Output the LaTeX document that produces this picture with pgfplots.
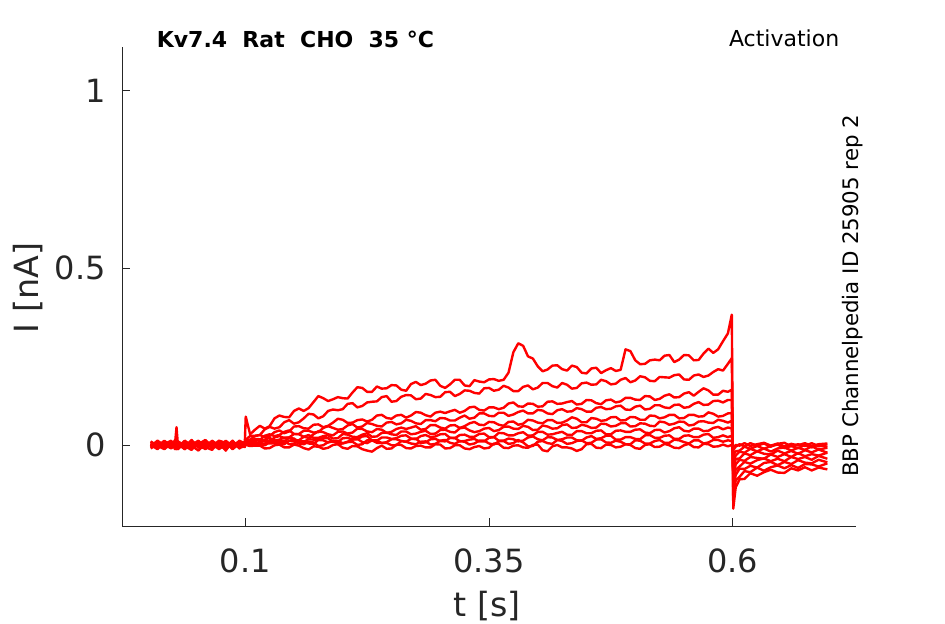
\documentclass[border=0pt]{standalone}
\usepackage{pgfplots}
\pgfplotsset{compat=1.18}
\usepackage{pgfplotstable}
\usepackage{fontspec}
\setmainfont{DejaVu Sans}
\definecolor{axisgray}{HTML}{262626}
\tikzset{trace/.style={color=red, solid, line width=1.8pt, line join=round, mark=none}}

\pgfplotstableread{
t a b c d e f g h i j
0.003 0.004 -0.006 0.008 -0.002 0.010 -0.010 0.000 0.006 -0.004 0.002
0.010 -0.008 0.010 -0.002 0.006 -0.004 0.002 -0.012 0.004 0.012 -0.006
0.017 0.010 -0.004 -0.012 0.004 0.002 0.008 0.006 -0.010 -0.002 0.012
0.024 -0.002 0.008 0.004 -0.010 0.012 -0.006 0.002 0.008 -0.008 -0.004
0.028 0.006 -0.012 0.010 0.000 -0.008 0.014 -0.004 -0.002 0.006 0.004
0.0295 -0.004 0.002 -0.006 0.008 -0.002 0.004 0.012 -0.012 0.000 0.050
0.031 0.002 0.006 0.000 -0.006 0.008 -0.008 0.004 0.010 -0.012 -0.002
0.038 -0.012 -0.004 0.006 0.012 -0.012 0.002 -0.006 -0.002 0.008 -0.008
0.045 0.008 -0.014 -0.010 -0.002 0.006 -0.004 0.014 0.000 -0.006 0.010
0.052 -0.006 0.010 0.002 -0.016 0.004 0.008 -0.008 0.012 -0.002 -0.004
0.059 0.012 -0.002 0.014 0.004 -0.006 -0.012 0.000 -0.008 0.010 -0.010
0.066 -0.010 0.006 -0.004 0.008 -0.014 0.002 -0.004 0.006 -0.006 0.012
0.073 0.004 -0.008 -0.008 -0.004 0.010 0.006 0.012 -0.012 0.000 -0.002
0.080 -0.002 0.012 0.004 -0.010 0.000 -0.016 0.006 0.002 0.008 -0.006
0.087 0.008 -0.004 -0.002 0.006 -0.006 0.010 -0.012 0.004 -0.010 0.012
0.094 -0.006 0.000 0.010 0.002 0.012 -0.004 0.004 -0.008 0.006 -0.010
0.0995 0.002 0.006 -0.004 -0.006 0.004 -0.002 0.008 -0.004 0.000 0.006
0.1005 0.080 0.015 0.012 0.010 0.008 0.006 0.005 0.004 0.003 0.000
0.105 0.030 0.025 0.015 0.014 0.010 0.008 0.006 0.004 0.002 -0.003
0.11 0.043 0.026 0.025 0.014 0.017 0.006 0.010 -0.001 0.009 -0.002
0.115 0.054 0.028 0.028 0.014 0.016 0.004 0.003 0.010 -0.001 -0.002
0.12 0.046 0.044 0.022 0.026 0.011 0.015 0.003 0.010 -0.001 -0.010
0.125 0.053 0.051 0.025 0.030 0.010 0.020 0.013 0.004 0.007 -0.009
0.13 0.075 0.046 0.036 0.025 0.021 0.012 0.013 0.005 0.007 -0.001
0.135 0.083 0.050 0.041 0.028 0.025 0.015 0.008 0.011 0.002 0.001
0.14 0.079 0.064 0.033 0.037 0.019 0.021 0.009 0.012 0.002 -0.007
0.145 0.078 0.070 0.038 0.041 0.021 0.021 0.020 0.002 0.012 -0.007
0.15 0.096 0.060 0.052 0.031 0.031 0.012 0.018 0.004 0.011 0.001
0.155 0.103 0.064 0.053 0.031 0.030 0.013 0.009 0.011 0.004 -0.002
0.16 0.096 0.075 0.047 0.040 0.023 0.023 0.009 0.010 0.002 -0.009
0.165 0.104 0.088 0.046 0.040 0.020 0.028 0.016 0.004 0.009 -0.013
0.17 0.121 0.086 0.057 0.035 0.030 0.020 0.015 0.003 0.007 -0.004
0.175 0.138 0.075 0.058 0.036 0.039 0.020 0.015 0.014 -0.003 -0.005
0.18 0.132 0.081 0.050 0.048 0.036 0.025 0.019 0.013 -0.001 -0.011
0.185 0.124 0.096 0.054 0.053 0.030 0.027 0.019 0.007 0.008 -0.008
0.19 0.129 0.100 0.063 0.048 0.027 0.018 0.009 0.010 0.011 0.000
0.195 0.135 0.098 0.074 0.043 0.037 0.019 0.008 0.011 0.003 0.002
0.20 0.132 0.101 0.071 0.045 0.038 0.031 0.019 0.005 0.004 -0.008
0.205 0.131 0.116 0.062 0.055 0.032 0.029 0.020 0.009 0.008 -0.011
0.21 0.148 0.118 0.063 0.059 0.035 0.023 0.015 0.016 0.009 -0.003
0.215 0.163 0.106 0.070 0.049 0.046 0.022 0.016 0.017 0.000 -0.004
0.22 0.161 0.110 0.072 0.052 0.045 0.029 0.024 0.008 0.002 -0.012
0.225 0.150 0.120 0.066 0.062 0.038 0.033 0.025 0.005 0.013 -0.016
0.23 0.150 0.122 0.071 0.059 0.036 0.023 0.013 0.013 0.013 -0.019
0.235 0.165 0.123 0.083 0.054 0.045 0.024 0.012 0.013 0.006 -0.009
0.24 0.159 0.135 0.085 0.052 0.043 0.034 0.021 0.005 0.006 -0.002
0.245 0.160 0.138 0.076 0.063 0.034 0.035 0.021 0.008 0.006 -0.011
0.25 0.169 0.122 0.074 0.065 0.037 0.030 0.017 0.016 -0.001 -0.010
0.255 0.168 0.124 0.083 0.058 0.045 0.028 0.019 0.016 -0.001 0.001
0.26 0.156 0.136 0.085 0.061 0.049 0.038 0.026 0.011 0.011 0.000
0.265 0.153 0.141 0.077 0.071 0.045 0.038 0.027 0.009 0.009 -0.009
0.27 0.172 0.140 0.083 0.068 0.049 0.030 0.018 0.017 0.004 -0.010
0.275 0.178 0.129 0.093 0.061 0.053 0.032 0.016 0.018 0.002 -0.003
0.28 0.169 0.131 0.091 0.059 0.043 0.037 0.025 0.006 0.009 -0.002
0.285 0.173 0.144 0.084 0.070 0.045 0.040 0.028 0.007 0.010 -0.007
0.29 0.182 0.141 0.080 0.070 0.056 0.031 0.022 0.016 0.001 -0.007
0.295 0.184 0.135 0.091 0.067 0.056 0.032 0.024 0.017 0.003 0.002
0.30 0.167 0.136 0.094 0.076 0.049 0.042 0.030 0.011 0.012 0.001
0.305 0.161 0.149 0.090 0.075 0.046 0.043 0.031 0.010 0.014 -0.010
0.31 0.171 0.150 0.095 0.069 0.055 0.037 0.020 0.020 0.006 -0.009
0.315 0.184 0.138 0.099 0.069 0.056 0.035 0.019 0.020 0.003 -0.001
0.32 0.184 0.144 0.091 0.077 0.048 0.047 0.028 0.010 0.011 -0.001
0.325 0.168 0.154 0.096 0.083 0.053 0.049 0.029 0.011 0.009 -0.010
0.33 0.166 0.153 0.106 0.074 0.061 0.041 0.023 0.015 0.001 -0.012
0.335 0.183 0.147 0.108 0.077 0.065 0.036 0.023 0.017 0.004 -0.006
0.34 0.179 0.145 0.099 0.089 0.057 0.039 0.031 0.010 0.012 -0.003
0.345 0.177 0.160 0.097 0.089 0.056 0.046 0.032 0.010 0.012 -0.010
0.35 0.185 0.161 0.106 0.082 0.065 0.048 0.022 0.020 0.004 -0.008
0.355 0.186 0.153 0.106 0.081 0.064 0.039 0.022 0.022 0.001 0.004
0.36 0.181 0.156 0.101 0.091 0.057 0.042 0.034 0.012 0.010 0.003
0.365 0.184 0.167 0.105 0.091 0.054 0.051 0.033 0.012 0.011 -0.008
0.37 0.204 0.162 0.117 0.082 0.065 0.052 0.027 0.018 0.003 -0.009
0.375 0.262 0.152 0.120 0.086 0.066 0.046 0.027 0.016 0.005 -0.002
0.38 0.287 0.152 0.109 0.093 0.057 0.045 0.033 0.010 0.014 -0.001
0.385 0.280 0.164 0.108 0.097 0.060 0.054 0.036 0.012 0.007 -0.007
0.39 0.250 0.168 0.117 0.089 0.071 0.051 0.026 0.021 -0.004 -0.008
0.395 0.244 0.157 0.116 0.089 0.069 0.042 0.027 0.024 -0.003 0.000
0.40 0.222 0.162 0.108 0.099 0.063 0.043 0.037 0.016 0.009 0.001
0.405 0.208 0.175 0.109 0.097 0.061 0.055 0.037 0.013 0.011 -0.015
0.41 0.213 0.175 0.122 0.089 0.070 0.052 0.029 0.022 0.005 -0.018
0.415 0.224 0.166 0.123 0.087 0.070 0.046 0.030 0.021 0.003 -0.004
0.42 0.225 0.162 0.116 0.098 0.062 0.047 0.034 0.014 0.014 0.000
0.425 0.214 0.175 0.117 0.101 0.063 0.056 0.037 0.016 0.011 -0.007
0.43 0.210 0.170 0.121 0.094 0.069 0.058 0.029 0.021 0.003 -0.007
0.435 0.224 0.159 0.124 0.095 0.078 0.048 0.028 0.021 0.005 -0.010
0.44 0.220 0.161 0.114 0.104 0.074 0.049 0.039 0.013 0.011 -0.017
0.445 0.204 0.174 0.116 0.101 0.064 0.057 0.039 0.012 0.013 -0.012
0.45 0.202 0.176 0.127 0.094 0.064 0.054 0.033 0.021 0.005 0.002
0.455 0.216 0.170 0.126 0.094 0.076 0.048 0.033 0.025 0.006 0.003
0.46 0.218 0.171 0.118 0.105 0.074 0.049 0.040 0.017 0.015 -0.008
0.465 0.203 0.184 0.115 0.107 0.068 0.060 0.041 0.019 0.016 -0.009
0.47 0.211 0.180 0.126 0.101 0.070 0.059 0.030 0.026 0.007 0.001
0.475 0.217 0.171 0.128 0.102 0.078 0.052 0.030 0.026 0.006 0.000
0.48 0.209 0.173 0.120 0.109 0.079 0.054 0.040 0.015 0.012 -0.007
0.485 0.212 0.184 0.123 0.111 0.069 0.061 0.041 0.015 0.009 -0.005
0.49 0.270 0.189 0.133 0.100 0.070 0.062 0.037 0.022 0.002 0.002
0.495 0.265 0.177 0.133 0.099 0.079 0.052 0.037 0.022 0.002 0.000
0.50 0.239 0.182 0.128 0.108 0.078 0.053 0.043 0.017 0.013 -0.009
0.505 0.228 0.194 0.127 0.111 0.071 0.061 0.044 0.016 0.012 -0.011
0.51 0.229 0.191 0.138 0.100 0.071 0.060 0.035 0.027 0.004 0.000
0.515 0.239 0.181 0.137 0.102 0.083 0.054 0.033 0.028 0.004 0.002
0.52 0.241 0.180 0.127 0.112 0.082 0.053 0.042 0.020 0.011 -0.006
0.525 0.239 0.192 0.130 0.112 0.075 0.066 0.043 0.020 0.014 -0.005
0.53 0.252 0.191 0.139 0.106 0.078 0.064 0.035 0.026 0.006 0.003
0.535 0.254 0.190 0.143 0.104 0.085 0.057 0.039 0.027 0.006 -0.001
0.54 0.234 0.197 0.134 0.113 0.085 0.060 0.047 0.017 0.015 -0.008
0.545 0.241 0.199 0.135 0.114 0.075 0.066 0.050 0.017 0.013 -0.009
0.55 0.254 0.185 0.145 0.105 0.076 0.065 0.040 0.026 0.008 -0.001
0.555 0.253 0.184 0.149 0.107 0.085 0.055 0.038 0.027 0.004 0.003
0.56 0.239 0.196 0.139 0.116 0.085 0.057 0.046 0.022 0.013 -0.006
0.565 0.240 0.199 0.150 0.121 0.080 0.066 0.046 0.022 0.013 -0.007
0.57 0.258 0.192 0.160 0.113 0.081 0.067 0.039 0.029 0.004 0.003
0.575 0.272 0.196 0.154 0.114 0.092 0.063 0.040 0.031 0.007 0.002
0.58 0.260 0.206 0.142 0.124 0.088 0.062 0.048 0.020 0.014 -0.005
0.585 0.270 0.214 0.142 0.125 0.080 0.071 0.051 0.022 0.014 -0.004
0.59 0.293 0.210 0.153 0.120 0.082 0.068 0.044 0.027 0.009 0.001
0.595 0.315 0.229 0.150 0.127 0.089 0.063 0.049 0.022 0.013 -0.004
0.599 0.368 0.245 0.156 0.127 0.090 0.068 0.047 0.026 0.011 0.000
0.6005 -0.180 -0.160 -0.130 -0.110 -0.090 -0.070 -0.050 -0.030 -0.015 -0.010
0.603 -0.120 -0.100 -0.085 -0.070 -0.055 -0.040 -0.030 -0.018 -0.005 0.000
0.607 -0.097 -0.090 -0.067 -0.061 -0.042 -0.038 -0.019 -0.016 0.002 -0.002
0.612 -0.096 -0.074 -0.068 -0.048 -0.045 -0.024 -0.022 -0.005 -0.004 0.005
0.618 -0.080 -0.077 -0.059 -0.053 -0.034 -0.029 -0.011 -0.011 0.005 -0.003
0.625 -0.087 -0.064 -0.064 -0.043 -0.037 -0.018 -0.018 -0.003 -0.002 0.002
0.632 -0.077 -0.073 -0.051 -0.038 -0.039 -0.025 -0.010 -0.011 0.004 0.006
0.639 -0.070 -0.063 -0.048 -0.046 -0.027 -0.027 -0.019 -0.003 -0.005 -0.002
0.646 -0.078 -0.058 -0.057 -0.039 -0.034 -0.016 -0.010 0.001 0.003 0.004
0.653 -0.079 -0.066 -0.048 -0.046 -0.026 -0.024 -0.007 -0.009 0.006 -0.004
0.660 -0.066 -0.057 -0.054 -0.034 -0.034 -0.017 -0.016 -0.003 -0.004 0.003
0.667 -0.072 -0.065 -0.043 -0.040 -0.023 -0.025 -0.008 -0.009 0.002 -0.001
0.674 -0.063 -0.054 -0.050 -0.034 -0.032 -0.015 -0.014 0.000 -0.003 0.005
0.681 -0.072 -0.055 -0.052 -0.042 -0.026 -0.021 -0.004 -0.007 0.005 -0.003
0.688 -0.064 -0.061 -0.042 -0.031 -0.030 -0.013 -0.013 0.001 -0.004 0.002
0.697 -0.069 -0.052 -0.049 -0.039 -0.022 -0.022 -0.008 -0.006 0.002 0.004
}\traces

\begin{document}
\begin{tikzpicture}
\begin{axis}[
  at={(0pt,0pt)}, anchor=south west,
  scale only axis, width=550.5pt, height=359.25pt,
  xmin=-0.0264, xmax=0.7264, ymin=-0.229, ymax=1.124,
  axis x line*=bottom, axis y line*=left,
  axis line style={color=axisgray, line width=0.6pt},
  xtick={0.1,0.35,0.6}, xticklabels={0.1,0.35,0.6},
  ytick={0,0.5,1}, yticklabels={0,0.5,1},
  tick align=inside, major tick length=6pt,
  tick style={color=axisgray, line width=0.6pt},
  ticklabel style={font=\fontsize{24}{28}\selectfont, text=axisgray, inner sep=0pt},
  xticklabel style={yshift=-16.5pt},
  yticklabel style={xshift=-12pt},
  /pgf/number format/assume math mode=true,
  clip=false,
]
\addplot[trace] table[x=t, y=j] {\traces};
\addplot[trace] table[x=t, y=i] {\traces};
\addplot[trace] table[x=t, y=h] {\traces};
\addplot[trace] table[x=t, y=g] {\traces};
\addplot[trace] table[x=t, y=f] {\traces};
\addplot[trace] table[x=t, y=e] {\traces};
\addplot[trace] table[x=t, y=d] {\traces};
\addplot[trace] table[x=t, y=c] {\traces};
\addplot[trace] table[x=t, y=b] {\traces};
\addplot[trace] table[x=t, y=a] {\traces};
\end{axis}
% texts (positions in pt, 1px = 0.75pt, origin at the axis' lower left corner)
\node[anchor=base west, inner sep=0pt, font=\fontsize{16.5}{19}\selectfont\bfseries] at (25.9pt,358.7pt) {Kv7.4\ \ Rat\ \ CHO\ \ 35 °C};
\node[anchor=base east, inner sep=0pt, font=\fontsize{16.5}{19}\selectfont] at (538.1pt,359.5pt) {Activation};
\node[anchor=base west, rotate=90, inner sep=0pt, font=\fontsize{16}{19}\selectfont] at (552pt,36.75pt) {BBP Channelpedia ID 25905 rep 2};
\node[anchor=base, rotate=90, inner sep=0pt, text=axisgray, font=\fontsize{25}{30}\selectfont] at (-62.25pt,178.5pt) {I [nA]};
\node[anchor=base, inner sep=0pt, text=axisgray, font=\fontsize{25}{30}\selectfont] at (273.75pt,-67.5pt) {t [s]};
\pgfresetboundingbox
\path (-91.5pt,-73.5pt) rectangle (617.25pt,394.5pt);
\end{tikzpicture}
\end{document}
